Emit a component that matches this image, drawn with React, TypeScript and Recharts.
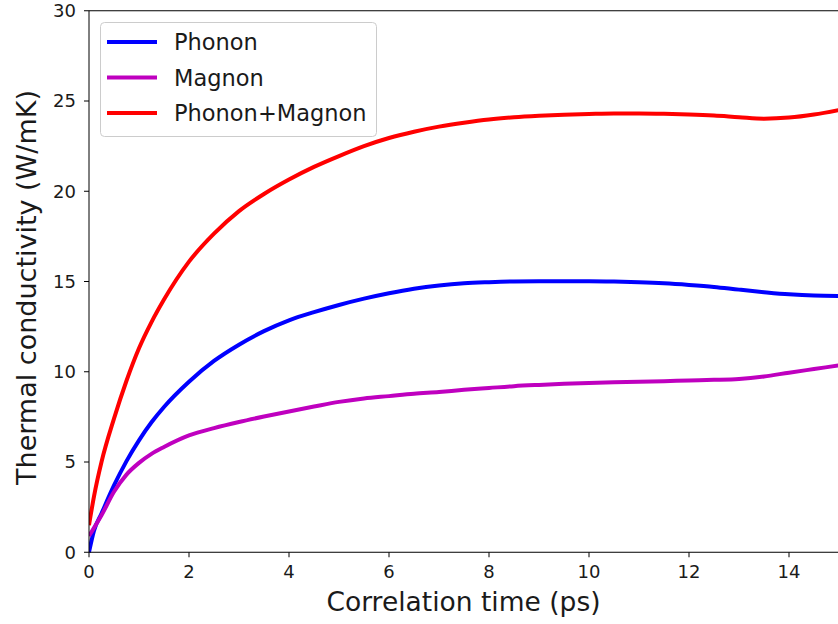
import { LineChart, Line, XAxis, YAxis, Legend, ReferenceLine } from "recharts";

// Correlation time (ps) sample points shared by all three series
const TIME = [
  0, 0.1, 0.25, 0.5, 0.75, 1, 1.25, 1.5, 2, 2.5, 3, 3.5, 4, 4.5, 5, 5.5, 6, 6.5,
  7, 7.5, 8, 8.5, 9, 9.5, 10, 10.5, 11, 11.5, 12, 12.5, 13, 13.5, 14, 14.5, 15,
];

// Thermal conductivity (W/mK)
const PHONON = [
  0, 1.2, 2.15, 3.7, 5.05, 6.2, 7.2, 8.05, 9.45, 10.6, 11.5, 12.25, 12.85, 13.3,
  13.7, 14.05, 14.35, 14.6, 14.78, 14.9, 14.96, 15.0, 15.01, 15.02, 15.02, 15.0,
  14.96, 14.9, 14.81, 14.7, 14.55, 14.41, 14.29, 14.22, 14.2,
];
const MAGNON = [
  0.9, 1.35, 2.05, 3.35, 4.3, 4.95, 5.45, 5.83, 6.47, 6.88, 7.22, 7.52, 7.8, 8.07,
  8.33, 8.52, 8.65, 8.78, 8.88, 9.0, 9.1, 9.2, 9.27, 9.33, 9.38, 9.42, 9.45, 9.48,
  9.52, 9.55, 9.6, 9.74, 9.95, 10.15, 10.35,
];
const TOTAL = [
  1.5, 3.1, 5.0, 7.4, 9.5, 11.3, 12.75, 14.0, 16.1, 17.65, 18.9, 19.85, 20.65,
  21.35, 21.95, 22.5, 22.95, 23.3, 23.58, 23.8, 23.98, 24.1, 24.18, 24.24, 24.28,
  24.31, 24.31, 24.29, 24.25, 24.19, 24.1, 24.02, 24.08, 24.25, 24.5,
];

const X_TICKS = [0, 2, 4, 6, 8, 10, 12, 14];
const Y_TICKS = [0, 5, 10, 15, 20, 25, 30];

const SERIES = [
  { key: "phonon", name: "Phonon", color: "#0000ff" },
  { key: "magnon", name: "Magnon", color: "#bf00bf" },
  { key: "total", name: "Phonon+Magnon", color: "#ff0000" },
];

const data = TIME.map((t, i) => ({
  t,
  phonon: PHONON[i],
  magnon: MAGNON[i],
  total: TOTAL[i],
}));

const FONT = "'DejaVu Sans', sans-serif";

function LegendBox() {
  return (
    <svg width={278} height={116} style={{ display: "block" }}>
      <rect
        x={0.5}
        y={0.5}
        width={276}
        height={114}
        rx={4}
        fill="rgba(255,255,255,0.8)"
        stroke="#cccccc"
      />
      {SERIES.map((s, i) => {
        const cy = 20 + i * 35.5;
        return (
          <g key={s.key}>
            <line x1={7} x2={57} y1={cy} y2={cy} stroke={s.color} strokeWidth={4} />
            <text x={74} y={cy + 8} fontSize={22.5} fontFamily={FONT} fill="#1a1a1a">
              {s.name}
            </text>
          </g>
        );
      })}
    </svg>
  );
}

function YTitle({ viewBox }: any) {
  const x = viewBox.x + 36;
  const y = viewBox.y + viewBox.height / 2 + 6;
  return (
    <text
      x={x}
      y={y}
      transform={`rotate(-90 ${x} ${y})`}
      textAnchor="middle"
      fontSize={27}
      fontFamily={FONT}
      fill="#1a1a1a"
    >
      Thermal conductivity (W/mK)
    </text>
  );
}

function XTitle({ viewBox }: any) {
  const x = viewBox.x + viewBox.width / 2;
  const y = viewBox.y + 59;
  return (
    <text x={x} y={y} textAnchor="middle" fontSize={26.5} fontFamily={FONT} fill="#1a1a1a">
      Correlation time (ps)
    </text>
  );
}

export default function App() {
  const tickStyle = { fontSize: 18, fontFamily: FONT, fill: "#1a1a1a" };
  return (
    <div style={{ position: "absolute", left: 0, top: 0, width: 838, height: 624, background: "#fff" }}>
      <LineChart
        width={838}
        height={624}
        data={data}
        margin={{ top: 10.75, right: 0, bottom: 0, left: 0 }}
      >
        <XAxis
          type="number"
          dataKey="t"
          domain={[0, 14.98]}
          allowDataOverflow
          ticks={X_TICKS}
          height={71.75}
          tickSize={5}
          tickMargin={8}
          tick={tickStyle}
          stroke="#000"
          tickLine={{ stroke: "#000" }}
          label={<XTitle />}
        />
        <YAxis
          type="number"
          domain={[0, 30]}
          ticks={Y_TICKS}
          width={89}
          tickSize={5}
          tickMargin={8}
          tick={tickStyle}
          stroke="#000"
          tickLine={{ stroke: "#000" }}
          label={<YTitle />}
        />
        <ReferenceLine y={30} stroke="#000" />
        <Legend
          layout="horizontal"
          verticalAlign="middle"
          align="center"
          content={() => <LegendBox />}
          wrapperStyle={{ left: 100, top: 21.5, width: 278, height: 116 }}
        />
        {SERIES.map((s) => (
          <Line
            key={s.key}
            dataKey={s.key}
            name={s.name}
            type="monotone"
            stroke={s.color}
            strokeWidth={4}
            dot={false}
            activeDot={false}
            isAnimationActive={false}
          />
        ))}
      </LineChart>
    </div>
  );
}
